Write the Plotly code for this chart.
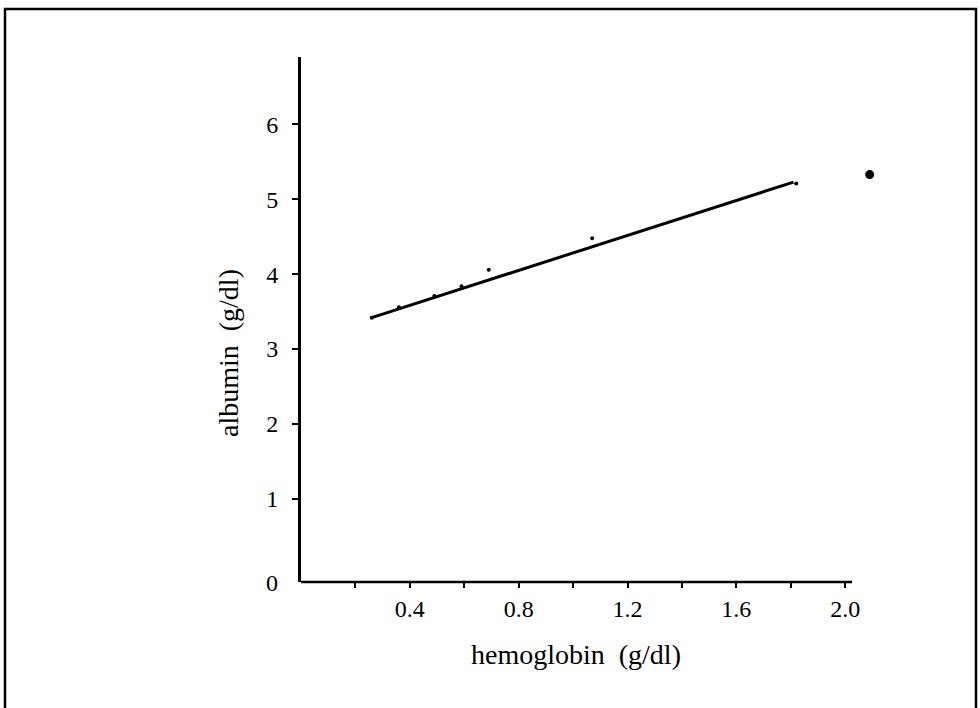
import plotly.graph_objects as go

# Observed data points (hemoglobin g/dl, albumin g/dl)
obs_x = [0.26, 0.36, 0.49, 0.59, 0.69, 1.07, 1.82]
obs_y = [3.42, 3.56, 3.71, 3.84, 4.06, 4.48, 5.21]

# Outlier point (large dot)
out_x = [2.09]
out_y = [5.33]

# Fitted line end points
fit_x = [0.26, 1.81]
fit_y = [3.42, 5.23]

# Tick definitions
x_tickvals = [0.2, 0.4, 0.6, 0.8, 1.0, 1.2, 1.4, 1.6, 1.8, 2.0]
x_ticktext = ["", "0.4", "", "0.8", "", "1.2", "", "1.6", "", "2.0"]
y_tickvals = [1, 2, 3, 4, 5, 6]
y_ticktext = ["1", "2", "3", "4", "5", "6"]
x_axis_end = 2.025

FONT = "Liberation Serif, Times New Roman, serif"

W, H = 980, 708
# target screen positions of plot area
S_L, S_R, S_T, S_B = 301, 901, 57, 582
L, T = S_L, S_T
R = W - S_R
B = H - S_B
pw, ph = W - L - R, H - T - B

def px(x):
    return (x - L) / pw

def py(y):
    return (H - B - y) / ph

x_max = (S_R - S_L) / 272.1

fig = go.Figure()
fig.add_trace(go.Scatter(x=fit_x, y=fit_y, mode="lines",
                         line=dict(color="black", width=3), showlegend=False))
fig.add_trace(go.Scatter(x=obs_x, y=obs_y, mode="markers",
                         marker=dict(color="black", size=4), showlegend=False))
fig.add_trace(go.Scatter(x=out_x, y=out_y, mode="markers",
                         marker=dict(color="black", size=9), showlegend=False))

fig.update_layout(
    width=W, height=H,
    margin=dict(l=L, r=R, t=T, b=B, pad=0),
    paper_bgcolor="white", plot_bgcolor="white",
    font=dict(family=FONT, color="black", size=22),
    xaxis=dict(range=[0, x_max], showgrid=False, zeroline=False,
               showline=False,
               ticks="outside", ticklen=5, tickwidth=2, tickcolor="black",
               tickvals=x_tickvals, ticktext=x_ticktext,
               tickfont=dict(family=FONT, size=24, color="black")),
    yaxis=dict(range=[-0.11, 6.9], showgrid=False, zeroline=False,
               showline=True, linecolor="black", linewidth=3,
               ticks="outside", ticklen=6, tickwidth=2, tickcolor="black",
               ticklabelstandoff=9,
               tickvals=y_tickvals, ticktext=y_ticktext,
               tickfont=dict(family=FONT, size=24, color="black")),
    annotations=[
        dict(text="hemoglobin\u00a0\u00a0(g/dl)", xref="paper", yref="paper",
             x=px(576), y=py(654), xanchor="center", yanchor="middle",
             showarrow=False, font=dict(family=FONT, size=28, color="black")),
        dict(text="albumin\u00a0\u00a0(g/dl)", xref="paper", yref="paper",
             x=px(228), y=py(353), xanchor="center", yanchor="middle",
             textangle=-90, showarrow=False,
             font=dict(family=FONT, size=28, color="black")),
        dict(text="0", xref="paper", yref="paper",
             x=px(280), y=py(583), xanchor="right", yanchor="middle",
             showarrow=False, font=dict(family=FONT, size=24, color="black")),
    ],
    shapes=[
        # x axis line (stops at 2.025 while the range extends to show the outlier)
        dict(type="line", xref="x", yref="paper",
             x0=0, x1=x_axis_end, y0=0, y1=0,
             line=dict(color="black", width=2.5)),
        # outer frame
        dict(type="rect", xref="paper", yref="paper",
             x0=px(5), x1=px(976), y0=py(730), y1=py(9),
             line=dict(color="black", width=2.5), fillcolor="rgba(0,0,0,0)"),
    ],
)

fig.write_html(
    "out.html",
    config={"displayModeBar": False},
    post_script="document.body.style.margin='0';document.body.style.overflow='hidden';",
)
